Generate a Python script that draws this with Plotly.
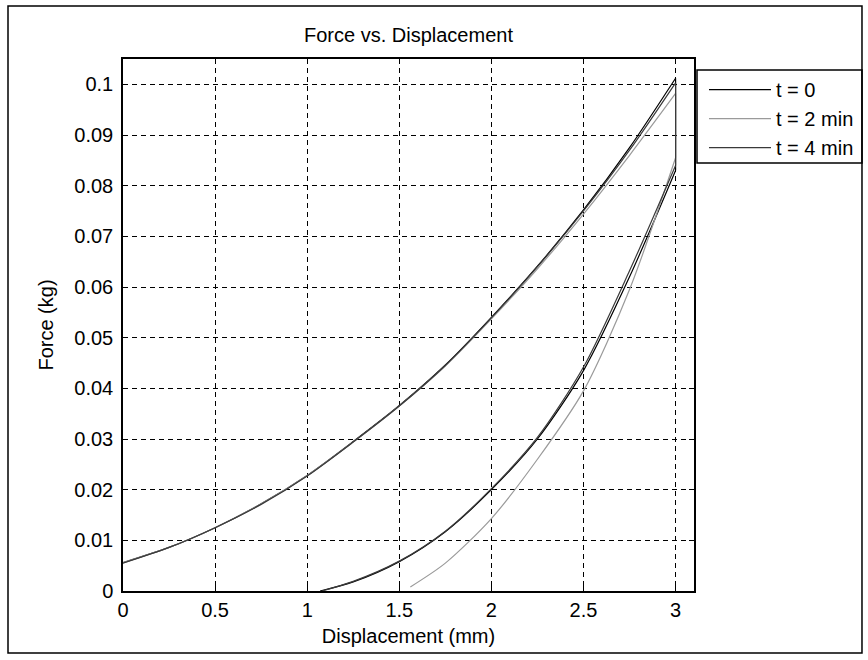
import plotly.graph_objects as go

# Loading branch (shared displacement grid), mm
disp_load = [0.0, 0.25, 0.5, 0.75, 1.0, 1.25, 1.5, 1.75, 2.0, 2.25, 2.5, 2.75, 3.0]
force_load_t0 = [0.0056, 0.0086, 0.0125, 0.0172, 0.0228, 0.0295, 0.0366, 0.0446, 0.0540, 0.0641, 0.0752, 0.0875, 0.1012]
force_load_t2 = [0.0056, 0.0086, 0.0125, 0.0172, 0.0228, 0.0294, 0.0365, 0.0444, 0.0537, 0.0636, 0.0744, 0.0860, 0.0982]
force_load_t4 = [0.0055, 0.0086, 0.0125, 0.0171, 0.0227, 0.0294, 0.0365, 0.0445, 0.0539, 0.0640, 0.0750, 0.0870, 0.1003]

# Unloading branches, mm
disp_unload_t0 = [3.0, 2.75, 2.5, 2.25, 2.0, 1.75, 1.5, 1.25, 1.07]
force_unload_t0 = [0.0830, 0.0620, 0.0435, 0.0300, 0.0200, 0.0117, 0.0058, 0.0018, 0.0]
disp_unload_t2 = [3.0, 2.75, 2.5, 2.25, 2.0, 1.75, 1.56]
force_unload_t2 = [0.0855, 0.0595, 0.0395, 0.0260, 0.0143, 0.0055, 0.0008]
disp_unload_t4 = [3.0, 2.75, 2.5, 2.25, 2.0, 1.75, 1.5, 1.25, 1.08]
force_unload_t4 = [0.0840, 0.0632, 0.0442, 0.0303, 0.0202, 0.0118, 0.0059, 0.0019, 0.0]

series_names = ["t = 0", "t = 2 min", "t = 4 min"]
series_colors = ["#000000", "#9a9a9a", "#3a3a3a"]

x_ticks = [0, 0.5, 1, 1.5, 2, 2.5, 3]
x_tick_text = ["0", "0.5", "1", "1.5", "2", "2.5", "3"]
y_ticks = [0, 0.01, 0.02, 0.03, 0.04, 0.05, 0.06, 0.07, 0.08, 0.09, 0.1]
y_tick_text = ["0", "0.01", "0.02", "0.03", "0.04", "0.05", "0.06", "0.07", "0.08", "0.09", "0.1"]

FONT = "Liberation Sans, Arial, Helvetica, sans-serif"
FS = 20

series = [
    (force_load_t0, disp_unload_t0, force_unload_t0),
    (force_load_t2, disp_unload_t2, force_unload_t2),
    (force_load_t4, disp_unload_t4, force_unload_t4),
]

fig = go.Figure()
for (f_load, d_unl, f_unl), name, color in zip(series, series_names, series_colors):
    line = dict(color=color, width=1.2)
    # loading branch
    fig.add_trace(go.Scatter(x=disp_load, y=f_load, mode="lines", name=name,
                             legendgroup=name, showlegend=True,
                             line=dict(line, shape="spline", smoothing=0.8)))
    # relaxation drop at maximum displacement
    fig.add_trace(go.Scatter(x=[disp_load[-1], d_unl[0]], y=[f_load[-1], f_unl[0]],
                             mode="lines", legendgroup=name, showlegend=False,
                             line=line))
    # unloading branch
    fig.add_trace(go.Scatter(x=d_unl, y=f_unl, mode="lines",
                             legendgroup=name, showlegend=False,
                             line=dict(line, shape="spline", smoothing=0.8)))

axis_common = dict(
    showline=True, linecolor="black", linewidth=1.5, mirror="ticks",
    ticks="inside", ticklen=5, tickcolor="black",
    showgrid=True, gridcolor="black", gridwidth=1.2,
    zeroline=False,
    tickfont=dict(family=FONT, size=FS, color="black"),
)

fig.update_layout(
    width=868, height=660,
    margin=dict(l=123, r=174, t=59, b=69, autoexpand=False),
    paper_bgcolor="white", plot_bgcolor="white",
    font=dict(family=FONT, size=FS, color="black"),
    title=dict(text="Force vs. Displacement", x=0.4706, xanchor="center",
               y=1 - 35 / 660, yanchor="middle",
               font=dict(family=FONT, size=FS, color="black")),
    xaxis=dict(range=[0, 3.1], tickvals=x_ticks, ticktext=x_tick_text,
               griddash="5px,4px", ticklabelstandoff=0,
               title=dict(text="Displacement (mm)", standoff=9,
                          font=dict(family=FONT, size=FS)),
               **axis_common),
    yaxis=dict(range=[0, 0.105], tickvals=y_ticks, ticktext=y_tick_text,
               griddash="5px,4px", ticklabelstandoff=4,
               title=dict(text="Force (kg)", standoff=15,
                          font=dict(family=FONT, size=FS)),
               **axis_common),
    legend=dict(x=1.0175, xanchor="left", y=0.979, yanchor="top",
                borderwidth=0, bgcolor="rgba(0,0,0,0)",
                font=dict(family=FONT, size=FS, color="black"),
                itemwidth=62, tracegroupgap=0),
    showlegend=True,
)

# Legend box
fig.add_shape(type="rect", xref="paper", yref="paper",
              x0=(697 - 123) / 571, x1=(862 - 123) / 571,
              y0=(591 - 163) / 532, y1=(591 - 70) / 532,
              line=dict(color="black", width=1.5), fillcolor="rgba(0,0,0,0)",
              layer="above")

# Figure frame around the whole canvas
fig.add_shape(type="rect", xref="paper", yref="paper",
              x0=-0.2014, x1=1.2942, y0=-0.1165, y1=1.0996,
              line=dict(color="black", width=1.5), fillcolor="rgba(0,0,0,0)",
              layer="above")

fig.write_html("out.html")
